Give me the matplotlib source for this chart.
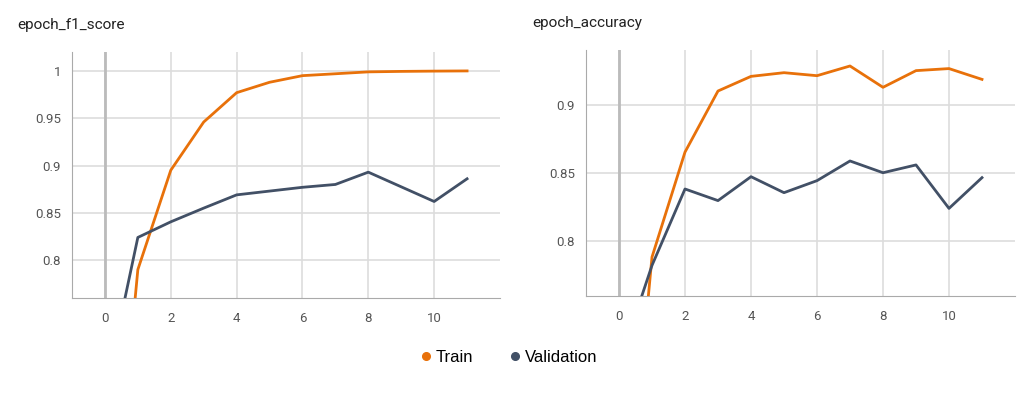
import numpy as np
import matplotlib.pyplot as plt
from matplotlib.lines import Line2D

# epochs and metric values
epochs = [0, 1, 2, 3, 4, 5, 6, 7, 8, 9, 10, 11]

f1_train = [0.42, 0.79, 0.895, 0.946, 0.977, 0.988, 0.995, 0.997, 0.999, 0.9995, 0.9998, 1.0]
f1_val = [0.66, 0.824, 0.8405, 0.855, 0.869, 0.873, 0.877, 0.880, 0.893, 0.8775, 0.862, 0.886]

acc_train = [0.53, 0.7885, 0.8653, 0.910, 0.9207, 0.9234, 0.9212, 0.9283, 0.9127, 0.9249, 0.9264, 0.9185]
acc_val = [0.71, 0.7824, 0.8383, 0.8298, 0.8473, 0.8356, 0.8444, 0.8588, 0.8502, 0.8559, 0.8241, 0.8466]

titles = ["epoch_f1_score", "epoch_accuracy"]
yticks = [[0.8, 0.85, 0.9, 0.95, 1.0], [0.8, 0.85, 0.9]]
ytick_labels = [["0.8", "0.85", "0.9", "0.95", "1"], ["0.8", "0.85", "0.9"]]
ylims = [(0.76, 1.02), (0.76, 0.94)]

orange = "#e8710a"
slate = "#425066"
grid_c = "#dddddd"
spine_c = "#aaaaaa"

plt.rcParams["font.family"] = ["Roboto", "DejaVu Sans"]

fig = plt.figure(figsize=(10.32, 3.93), dpi=100)
W, H = 1032, 393
boxes = [(72, 52, 500, 298), (586, 50, 1015, 296)]
series = [(f1_train, f1_val), (acc_train, acc_val)]
title_pos = [(17, 25), (532, 23)]

for i in range(2):
    x0, y0, x1, y1 = boxes[i]
    ax = fig.add_axes([x0 / W, 1 - y1 / H, (x1 - x0) / W, (y1 - y0) / H])
    tr, va = series[i]
    ax.plot(epochs, tr, color=orange, lw=2, zorder=3, solid_joinstyle="round")
    ax.plot(epochs, va, color=slate, lw=2, zorder=3, solid_joinstyle="round")
    ax.set_xlim(-1, 12)
    ax.set_ylim(*ylims[i])
    ax.set_xticks([0, 2, 4, 6, 8, 10])
    ax.set_yticks(yticks[i])
    ax.set_yticklabels(ytick_labels[i])
    ax.grid(True, color=grid_c, lw=1.2)
    ax.axvline(0, color="#bbbbbb", lw=2, zorder=2)
    ax.set_axisbelow(True)
    for s in ["top", "right"]:
        ax.spines[s].set_visible(False)
    for s in ["left", "bottom"]:
        ax.spines[s].set_color(spine_c)
    ax.tick_params(length=0, labelsize=9.5, colors="#555555", pad=10)
    ax.tick_params(axis="y", pad=8)
    fig.text(title_pos[i][0] / W, 1 - title_pos[i][1] / H, titles[i],
             fontsize=11, color="#212121", va="center", ha="left")

handles = [
    Line2D([], [], marker="o", color=orange, ls="", markersize=5.5),
    Line2D([], [], marker="o", color=slate, ls="", markersize=5.5),
]
fig.legend(handles, ["Train", "Validation"], loc="center", ncol=2,
           bbox_to_anchor=(508 / W, 1 - 357 / H), frameon=False,
           prop={"family": ["Liberation Sans", "DejaVu Sans"], "size": 12},
           handlelength=0.8, handletextpad=0.2, columnspacing=2.1)

fig.savefig("out.png", dpi=100, facecolor="white")
